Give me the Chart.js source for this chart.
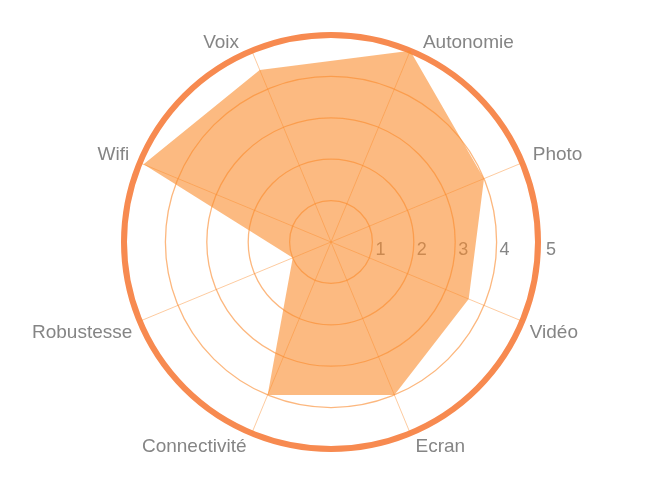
<!DOCTYPE html>
<html>
<head>
<meta charset="utf-8">
<script src="https://cdn.jsdelivr.net/npm/chart.js@4.4.1/dist/chart.umd.min.js"></script>
<style>
  html, body { margin: 0; padding: 0; background: #fff; }
  #wrap { width: 645px; height: 484px; position: relative; }
</style>
</head>
<body>
<div id="wrap"><canvas id="canvas"></canvas></div>
<script>
// Critères notés de 0 à 5
const labels = ['Voix', 'Autonomie', 'Photo', 'Vidéo', 'Ecran', 'Connectivité', 'Robustesse', 'Wifi'];
const notes = [4.5, 5, 4, 3.6, 4, 4, 1, 4.9];
const tickValues = [1, 2, 3, 4, 5];

const FONT = '"Liberation Sans", Arial, sans-serif';
const GREY = '#858585';

// Graduations écrites à l'horizontale, sous la surface remplie
const tickLabelsPlugin = {
  id: 'tickLabels',
  beforeDatasetsDraw(chart) {
    const scale = chart.scales.r;
    const ctx = chart.ctx;
    ctx.save();
    ctx.font = '18px ' + FONT;
    ctx.fillStyle = GREY;
    ctx.textAlign = 'left';
    ctx.textBaseline = 'alphabetic';
    tickValues.forEach(v => {
      const d = scale.getDistanceFromCenterForValue(v);
      ctx.fillText(String(v), scale.xCenter + d + (v === 5 ? 8 : 3), scale.yCenter + 12.5);
    });
    ctx.restore();
  }
};

// Libellés des axes, posés à côté de l'extrémité de chaque axe
const axisLabelsPlugin = {
  id: 'axisLabels',
  afterDraw(chart) {
    const scale = chart.scales.r;
    const ctx = chart.ctx;
    ctx.save();
    ctx.font = '19px ' + FONT;
    ctx.fillStyle = GREY;
    ctx.textBaseline = 'alphabetic';
    chart.data.labels.forEach((label, i) => {
      const p = scale.getPointPosition(i, scale.drawingArea);
      const a = scale.getIndexAngle(i);
      const s = Math.sin(a), c = Math.cos(a);
      const right = s > 0;
      const dx = 9 + 4 * c;
      ctx.textAlign = right ? 'left' : 'right';
      const x = p.x + (right ? dx : -dx);
      const y = c > 0 ? p.y - 2.5 : p.y + 16 - 3 * c;
      ctx.fillText(label, x, y);
    });
    ctx.restore();
  }
};

new Chart(document.getElementById('canvas'), {
  type: 'radar',
  data: {
    labels: labels,
    datasets: [{
      data: notes,
      backgroundColor: 'rgba(250, 140, 45, 0.6)',
      borderWidth: 0,
      pointRadius: 0,
      fill: true,
    }],
  },
  options: {
    responsive: true,
    maintainAspectRatio: false,
    animation: false,
    layout: { padding: { top: 35, bottom: 35, left: 17, right: 0 } },
    plugins: {
      legend: { display: false },
      tooltip: { enabled: false },
    },
    scales: {
      r: {
        min: 0,
        max: 5,
        startAngle: -22.5,
        ticks: { stepSize: 1, display: false },
        grid: {
          circular: true,
          color: ctx => ctx.tick && ctx.tick.value === 5 ? 'rgb(247, 138, 80)' : 'rgba(250, 135, 40, 0.6)',
          lineWidth: ctx => ctx.tick && ctx.tick.value === 5 ? 6 : 1.3,
        },
        angleLines: { color: 'rgba(250, 140, 45, 0.45)', lineWidth: 1 },
        pointLabels: { display: false },
      },
    },
  },
  plugins: [tickLabelsPlugin, axisLabelsPlugin],
});
</script>
</body>
</html>
